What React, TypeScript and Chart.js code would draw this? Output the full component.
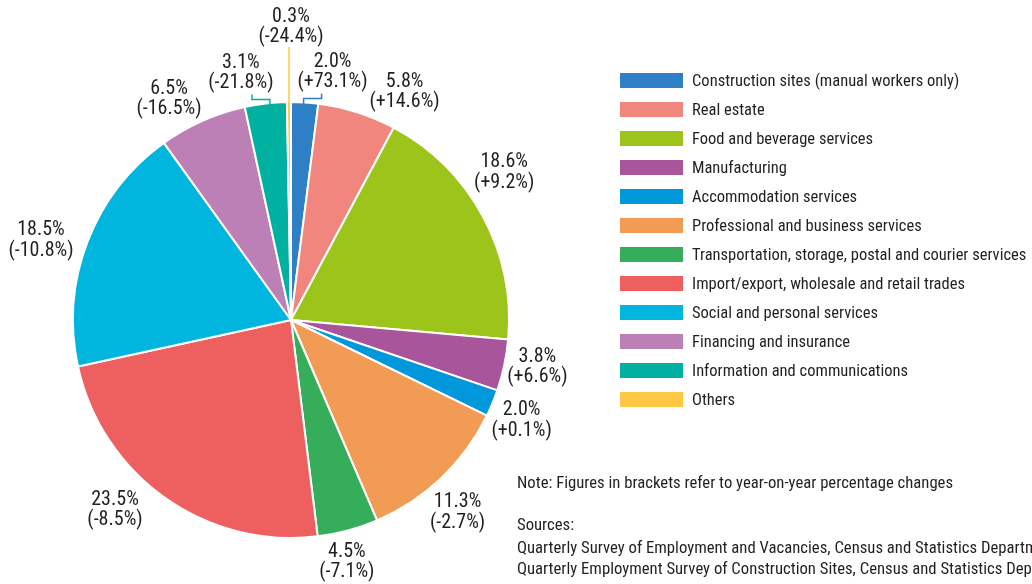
import React, { useEffect, useRef } from "react";
import { Chart, registerables } from "chart.js";

Chart.register(...registerables);

const categories = [
  "Construction sites (manual workers only)",
  "Real estate",
  "Food and beverage services",
  "Manufacturing",
  "Accommodation services",
  "Professional and business services",
  "Transportation, storage, postal and courier services",
  "Import/export, wholesale and retail trades",
  "Social and personal services",
  "Financing and insurance",
  "Information and communications",
  "Others",
];

const shares = [2.0, 5.8, 18.6, 3.8, 2.0, 11.3, 4.5, 23.5, 18.5, 6.5, 3.1, 0.3];

const changes = [
  "+73.1", "+14.6", "+9.2", "+6.6", "+0.1", "-2.7",
  "-7.1", "-8.5", "-10.8", "-16.5", "-21.8", "-24.4",
];

const colors = [
  "#2e7fc6", "#f0867d", "#9dc41a", "#a8559b", "#0098db", "#f29b55",
  "#36ad5a", "#ee5f5f", "#00b5de", "#bc80b6", "#00b0a0", "#fec844",
];

const noteText = "Note: Figures in brackets refer to year-on-year percentage changes";
const sourceLines = [
  "Sources:",
  "Quarterly Survey of Employment and Vacancies, Census and Statistics Department",
  "Quarterly Employment Survey of Construction Sites, Census and Statistics Department",
];

// label layout: how each slice label is placed
const labelKinds = [
  "calloutRight", "radial", "radial", "radial", "radial", "radial",
  "radial", "radial", "radial", "radial", "calloutLeft", "stem",
];
const labelNudges: [number, number][] = [
  [0, 0], [36, 16], [-12, -26], [-4, -6], [-6, 3], [-10, 7],
  [-11, -5], [-28, -19], [-11, 12], [-18, 13], [0, 0], [0, 0],
];

const FONT = "'Liberation Sans Narrow', 'Arial Narrow', 'Roboto Condensed', 'Liberation Sans', sans-serif";
const TEXT = "#231f20";

const labelPlugin = {
  id: "sliceLabels",
  afterDatasetsDraw(chart: any) {
    const ctx = chart.ctx;
    const meta = chart.getDatasetMeta(0);
    ctx.save();
    ctx.font = `20px ${FONT}`;
    ctx.fillStyle = TEXT;
    ctx.textAlign = "center";
    ctx.textBaseline = "middle";
    const lh = 20.5;
    meta.data.forEach((arc: any, i: number) => {
      const p = arc.getProps(["x", "y", "startAngle", "endAngle", "outerRadius"], true);
      const mid = (p.startAngle + p.endAngle) / 2;
      const l1 = `${shares[i].toFixed(1)}%`;
      const l2 = `(${changes[i]}%)`;
      const kind = labelKinds[i];
      if (kind === "radial") {
        const r = p.outerRadius + 38;
        const cx = p.x + Math.cos(mid) * r + labelNudges[i][0];
        const cy = p.y + Math.sin(mid) * r + labelNudges[i][1];
        ctx.fillText(l1, cx, cy - lh / 2);
        ctx.fillText(l2, cx, cy + lh / 2);
      } else {
        const r0 = p.outerRadius - 2;
        const x0 = p.x + Math.cos(mid) * r0;
        const y0 = p.y + Math.sin(mid) * r0;
        ctx.strokeStyle = colors[i];
        ctx.lineWidth = 1.5;
        ctx.beginPath();
        if (kind === "stem") {
          ctx.moveTo(x0, y0);
          ctx.lineTo(x0, y0 - 57);
          ctx.stroke();
          const cx = x0 + 2;
          ctx.fillText(l1, cx, y0 - 67 - lh);
          ctx.fillText(l2, cx, y0 - 67);
        } else {
          const dir = kind === "calloutRight" ? 1 : -1;
          const xs = kind === "calloutRight" ? x0 - 1 : x0 + 4;
          ctx.moveTo(xs, y0);
          ctx.lineTo(xs, y0 - 6);
          ctx.lineTo(xs + dir * 18, y0 - 6);
          ctx.lineTo(xs + dir * 18, y0 - 11);
          ctx.stroke();
          const cx = xs + dir * 29;
          ctx.fillText(l1, cx, y0 - 22 - lh);
          ctx.fillText(l2, cx, y0 - 22);
        }
      }
    });
    ctx.restore();
  },
};

export default function App() {
  const canvasRef = useRef<HTMLCanvasElement | null>(null);

  useEffect(() => {
    if (!canvasRef.current) return;
    const chart = new Chart(canvasRef.current, {
      type: "pie",
      data: {
        labels: categories,
        datasets: [
          {
            data: shares,
            backgroundColor: colors,
            borderColor: "#ffffff",
            borderWidth: 2,
          },
        ],
      },
      options: {
        animation: false,
        responsive: false,
        devicePixelRatio: 1,
        layout: { padding: { left: 72, top: 101, right: 522, bottom: 45 } },
        plugins: {
          legend: { display: false },
          tooltip: { enabled: false },
        },
      },
      plugins: [labelPlugin],
    });
    return () => chart.destroy();
  }, []);

  return (
    <div
      style={{
        position: "absolute",
        left: 0,
        top: 0,
        width: 1032,
        height: 584,
        overflow: "hidden",
        background: "#ffffff",
        fontFamily: FONT,
        color: TEXT,
      }}
    >
      <canvas ref={canvasRef} width={1032} height={584} style={{ position: "absolute", left: 0, top: 0 }} />
      {categories.map((c, i) => (
        <div key={c}>
          <div
            style={{
              position: "absolute",
              left: 620,
              top: 73 + i * 29,
              width: 63,
              height: 15,
              background: colors[i],
            }}
          />
          <div
            style={{
              position: "absolute",
              left: 692,
              top: 70 + i * 29,
              height: 21,
              lineHeight: "21px",
              fontSize: 16.5,
              whiteSpace: "nowrap",
            }}
          >
            {c}
          </div>
        </div>
      ))}
      <div
        style={{
          position: "absolute",
          left: 517,
          top: 472,
          lineHeight: "21px",
          fontSize: 16.7,
          whiteSpace: "nowrap",
        }}
      >
        {noteText}
      </div>
      {sourceLines.map((s, i) => (
        <div
          key={i}
          style={{
            position: "absolute",
            left: 517,
            top: 514 + (i === 0 ? 0 : 2 + i * 21),
            lineHeight: "21px",
            fontSize: 16.7,
            whiteSpace: "nowrap",
          }}
        >
          {s}
        </div>
      ))}
    </div>
  );
}
